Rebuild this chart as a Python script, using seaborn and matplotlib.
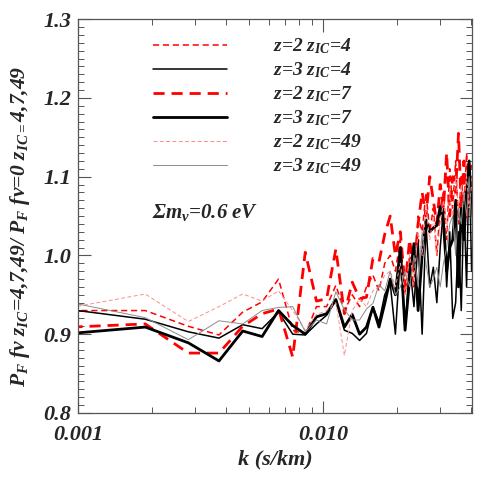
import numpy as np
import pandas as pd
import matplotlib
matplotlib.use("Agg")
import matplotlib.pyplot as plt
import matplotlib.ticker as mticker
import seaborn as sns

# k grid (s/km)
dk = 0.00094
n_modes = list(range(1, 44))

z2_zic4 = [0.930, 0.930, 0.910, 0.899, 0.928, 0.941, 0.970, 0.905, 0.900, 0.935,
           0.935, 0.962, 0.930, 0.950, 0.935, 0.960, 0.975, 0.955, 0.990, 1.000,
           0.980, 1.020, 0.950, 1.000, 0.960, 1.050, 1.030, 1.080, 1.030, 1.060,
           1.000, 1.060, 1.080, 1.020, 1.110, 1.060, 1.120, 1.040, 1.100, 1.060,
           1.130, 1.070, 1.100]
z3_zic4 = [0.931, 0.919, 0.903, 0.895, 0.912, 0.907, 0.928, 0.900, 0.899, 0.913,
           0.924, 0.943, 0.905, 0.901, 0.892, 0.901, 0.935, 0.915, 0.950, 0.965,
           0.900, 1.000, 0.905, 0.990, 0.935, 1.020, 0.900, 1.040, 0.960, 0.985,
           0.940, 1.010, 1.060, 0.960, 1.030, 0.920, 0.940, 1.030, 0.930, 1.070,
           0.960, 1.120, 0.980]
z2_zic7 = [0.909, 0.913, 0.876, 0.876, 0.910, 0.926, 0.932, 0.871, 1.004, 0.942,
           0.945, 1.008, 0.926, 0.966, 0.945, 0.947, 0.996, 0.992, 1.027, 1.050,
           1.000, 1.030, 0.960, 1.020, 0.980, 1.040, 1.080, 1.050, 1.100, 1.070,
           1.040, 1.090, 1.060, 1.130, 1.050, 1.100, 1.080, 1.155, 1.060, 1.120,
           1.050, 1.090, 1.115]
z3_zic7 = [0.901, 0.909, 0.889, 0.866, 0.904, 0.897, 0.930, 0.911, 0.900, 0.922,
           0.926, 0.944, 0.909, 0.925, 0.900, 0.909, 0.934, 0.909, 0.939, 0.970,
           0.950, 1.010, 0.905, 0.970, 1.015, 0.930, 1.000, 1.045, 1.030, 1.035,
           1.038, 1.062, 1.040, 0.980, 1.010, 1.020, 1.070, 0.960, 1.060, 1.020,
           1.080, 1.120, 1.050]
z2_zic49 = [0.934, 0.951, 0.916, 0.935, 0.951, 0.942, 0.955, 0.930, 0.905, 0.925,
            0.930, 0.940, 0.873, 0.930, 0.945, 0.935, 0.955, 0.960, 0.975, 0.980,
            0.960, 0.990, 0.950, 1.000, 0.970, 1.030, 1.000, 1.060, 1.020, 1.050,
            1.000, 1.040, 1.070, 1.030, 1.080, 1.050, 1.100, 1.060, 1.090, 1.070,
            1.100, 1.060, 1.090]
z3_zic49 = [0.940, 0.921, 0.893, 0.917, 0.913, 0.930, 0.934, 0.935, 0.903, 0.918,
            0.913, 0.954, 0.931, 0.918, 0.918, 0.932, 0.939, 0.963, 0.955, 0.980,
            0.950, 0.960, 0.980, 0.960, 1.000, 0.960, 1.030, 0.990, 0.960, 0.970,
            0.985, 0.960, 0.990, 1.010, 1.040, 1.050, 1.000, 1.060, 1.040, 1.080,
            1.050, 1.100, 1.040]

labels = [r"$z$=2 $z_{IC}$=4", r"$z$=3 $z_{IC}$=4", r"$z$=2 $z_{IC}$=7",
          r"$z$=3 $z_{IC}$=7", r"$z$=2 $z_{IC}$=49", r"$z$=3 $z_{IC}$=49"]
series = [z2_zic4, z3_zic4, z2_zic7, z3_zic7, z2_zic49, z3_zic49]
colors = ["#ff0000", "#000000", "#ff0000", "#000000", "#ff8c8c", "#8c8c8c"]
widths = [1.1, 1.1, 2.0, 2.0, 0.7, 0.7]
dashed = [True, False, True, False, True, False]

sns.set_style("ticks")
plt.rcParams["font.family"] = ["Liberation Serif", "DejaVu Serif"]
plt.rcParams["font.weight"] = "bold"
plt.rcParams["font.style"] = "italic"
plt.rcParams["mathtext.fontset"] = "custom"
plt.rcParams["mathtext.rm"] = "Liberation Serif:bold:italic"
plt.rcParams["mathtext.it"] = "Liberation Serif:bold:italic"
plt.rcParams["mathtext.bf"] = "Liberation Serif:bold:italic"

fig = plt.figure(figsize=(4.91, 4.91), dpi=100)
ax = fig.add_axes([0.159, 0.159, 0.802, 0.802])

k = [n * dk for n in n_modes]
for lab, vals, c, lw, d in zip(labels, series, colors, widths, dashed):
    df = pd.DataFrame({"k": k, "ratio": vals})
    sns.lineplot(data=df, x="k", y="ratio", ax=ax, color=c, linewidth=lw,
                 label=lab, legend=False)
    ln = ax.lines[-1]
    if d:
        ln.set_dashes((4, 2.5))

ax.set_xscale("log")
ax.set_xlim(0.001, 0.0405)
ax.set_ylim(0.8, 1.3)
ax.xaxis.set_major_locator(mticker.FixedLocator([0.001, 0.01]))
ax.xaxis.set_major_formatter(mticker.FixedFormatter(["0.001", "0.010"]))
ax.xaxis.set_minor_locator(mticker.LogLocator(base=10, subs=np.arange(2, 10)))
ax.xaxis.set_minor_formatter(mticker.NullFormatter())
ax.yaxis.set_major_locator(mticker.MultipleLocator(0.1))
ax.yaxis.set_minor_locator(mticker.MultipleLocator(0.01))
ax.yaxis.set_major_formatter(mticker.FormatStrFormatter("%.1f"))
ax.tick_params(which="both", direction="in", top=True, right=True, color="#555555")
ax.tick_params(which="major", length=9, width=0.8, labelsize=16)
ax.tick_params(which="minor", length=4.5, width=0.7)
ax.tick_params(axis="x", which="major", pad=9)
ax.tick_params(axis="y", which="major", pad=5)
for t in ax.get_xticklabels() + ax.get_yticklabels():
    t.set_fontweight("bold")
    t.set_fontstyle("italic")
for sp in ax.spines.values():
    sp.set_color("#555555")
    sp.set_linewidth(0.9)

ax.set_xlabel("k (s/km)", fontsize=16, fontweight="bold", fontstyle="italic", labelpad=3)
ax.set_ylabel(r"$P_F\ f\nu\ z_{IC}$=4,7,49/ $P_F\ f\nu$=0 $z_{IC=}$4,7,49",
              fontsize=15.5, fontweight="bold", fontstyle="italic")
ax.yaxis.set_label_coords(-0.118, 0.475)

ax.text(0.188, 0.51, r"$\Sigma m_\nu$=0.6 eV", transform=ax.transAxes,
        fontsize=15, fontweight="bold", fontstyle="italic", va="center")

ax.legend(loc="upper left", bbox_to_anchor=(0.17, 0.975), frameon=False,
          fontsize=14, handlelength=3.8, handletextpad=2.4, labelspacing=0.22,
          borderaxespad=0)

fig.savefig("out.png", dpi=100)
